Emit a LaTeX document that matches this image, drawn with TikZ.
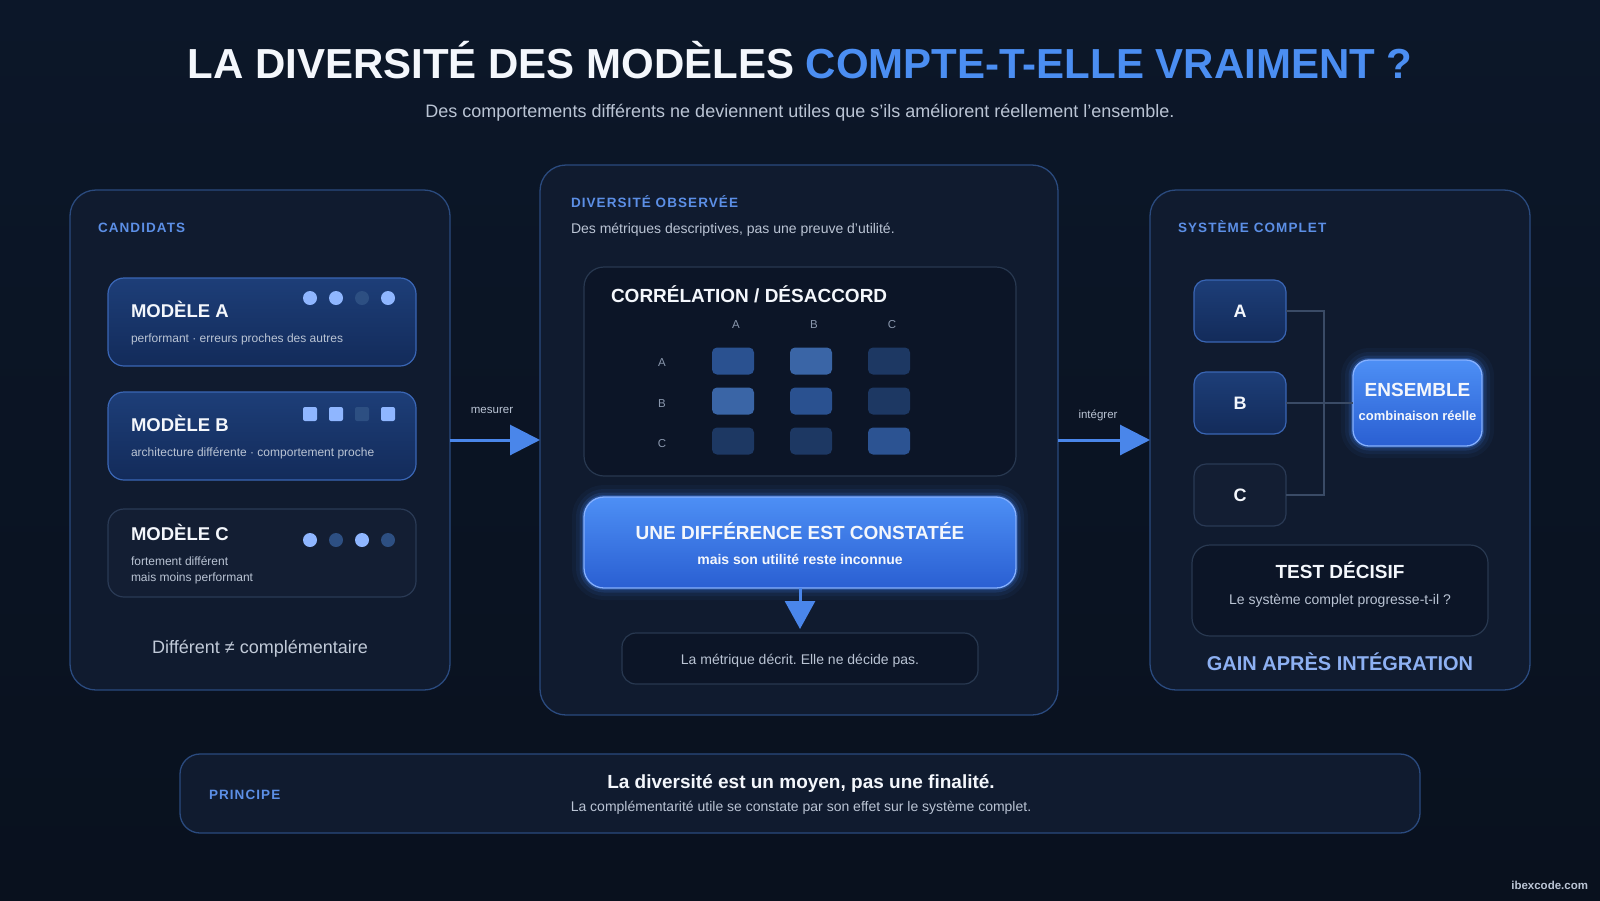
\documentclass[tikz,border=0pt]{standalone}
\usepackage{fontspec}
\setmainfont{Liberation Sans}
\usetikzlibrary{arrows.meta,calc}
\frenchspacing
\definecolor{bgtop}{HTML}{0C1729}
\definecolor{bgbot}{HTML}{09111E}
\definecolor{panelfill}{HTML}{101B2F}
\definecolor{panelborder}{HTML}{2A4A7E}
\definecolor{innerfill}{HTML}{0C1527}
\definecolor{innerborder}{HTML}{283850}
\definecolor{labelblue}{HTML}{5C8FE6}
\definecolor{titleblue}{HTML}{4B8EF2}
\definecolor{gainblue}{HTML}{8DB0F2}
\definecolor{txtwhite}{HTML}{F4F7FC}
\definecolor{txtgray}{HTML}{BAC4D4}
\definecolor{mutedgray}{HTML}{8A97AD}
\definecolor{modtop}{HTML}{1D3E78}
\definecolor{modbot}{HTML}{132B5A}
\definecolor{modborder}{HTML}{3A66B5}
\definecolor{darkbox}{HTML}{131E33}
\definecolor{darkborder}{HTML}{2A3A55}
\definecolor{dotlight}{HTML}{8FB6FF}
\definecolor{dotdark}{HTML}{2D4F82}
\definecolor{arrowblue}{HTML}{4A86EA}
\definecolor{bluetop}{HTML}{4D8FF5}
\definecolor{bluebot}{HTML}{2A5FD2}
\definecolor{blueborder}{HTML}{85B0FF}
\definecolor{glowc}{HTML}{3F7FF0}
\definecolor{connc}{HTML}{3A4B66}
\definecolor{cellmid}{HTML}{2A5190}
\definecolor{celllight}{HTML}{3A65A6}
\definecolor{celldark}{HTML}{1D3863}
\newcommand{\myfs}[1]{\fontsize{#1}{#1}\selectfont}
\newcommand{\spaced}{\addfontfeature{LetterSpace=8}}
\begin{document}
\begin{tikzpicture}[x=1pt,y=-1pt,
  every node/.style={inner sep=0pt, outer sep=0pt},
  panel/.style={draw=panelborder, line width=1.3pt, fill=panelfill, rounded corners=26pt},
  modelbox/.style={draw=modborder, line width=1.2pt, top color=modtop, bottom color=modbot, rounded corners=16pt, minimum width=308, minimum height=88},
  modeldark/.style={draw=darkborder, line width=1.2pt, fill=darkbox, rounded corners=16pt, minimum width=308, minimum height=88},
  innerbox/.style={draw=innerborder, line width=1.2pt, fill=innerfill, rounded corners=20pt},
  glow/.style={preaction={draw=glowc, line width=24pt, opacity=0.05},
               preaction={draw=glowc, line width=16pt, opacity=0.08},
               preaction={draw=glowc, line width=9pt, opacity=0.15},
               preaction={draw=glowc, line width=4pt, opacity=0.3}},
  bluebox/.style={glow, draw=blueborder, line width=1.3pt, top color=bluetop, bottom color=bluebot, rounded corners=20pt},
  cell/.style={rounded corners=5pt, minimum width=42, minimum height=27},
  smallbox/.style={draw=modborder, line width=1.2pt, top color=modtop, bottom color=modbot, rounded corners=12pt, minimum width=92, minimum height=62},
  smalldark/.style={draw=darkborder, line width=1.2pt, fill=darkbox, rounded corners=12pt, minimum width=92, minimum height=62},
  sec/.style={text=labelblue, font=\myfs{13.5}\bfseries\spaced, anchor=base west},
  mtitle/.style={text=txtwhite, font=\myfs{18.5}\bfseries, anchor=base west},
  msub/.style={text=txtgray, font=\myfs{12}, anchor=base west},
  body/.style={text=txtgray, font=\myfs{14}, anchor=base},
  flow/.style={draw=arrowblue, line width=3pt, -{Triangle[length=30pt, width=30pt]}},
  conn/.style={draw=connc, line width=1.5pt},
  mlabel/.style={text=mutedgray, font=\myfs{11.5}}
]
% background
\shade[top color=bgtop, bottom color=bgbot] (0,0) rectangle (1600,900);
\useasboundingbox (0,0) rectangle (1600,900);

% title
\node[anchor=base, font=\myfs{42}\bfseries] (title) at (800,78)
  {\textcolor{txtwhite}{LA DIVERSITÉ DES MODÈLES} \textcolor{titleblue}{COMPTE-T-ELLE VRAIMENT ?}};
\node[anchor=base, text=txtgray, font=\myfs{18}] (subtitle) at (800,117)
  {Des comportements différents ne deviennent utiles que s’ils améliorent réellement l’ensemble.};

% panels
\node[panel, minimum width=380, minimum height=500] (left) at (260,440) {};
\node[panel, minimum width=518, minimum height=550] (mid) at (799,440) {};
\node[panel, minimum width=380, minimum height=500] (right) at (1340,440) {};

% connectors between panels
\draw[flow] (left.east) -- (mid.west);
\draw[flow] (mid.east) -- (right.west);
\node[anchor=base, text=txtgray, font=\myfs{11.5}] (lmes) at (492,413) {mesurer};
\node[anchor=base, text=txtgray, font=\myfs{11.5}] (lint) at (1098,418) {intégrer};

% ---------- left panel ----------
\node[sec] (candl) at (98,232) {CANDIDATS};

\node[modelbox] (ma) at (262,322) {};
\node[mtitle] (mat) at (131,317) {MODÈLE A};
\node[msub] (mas) at (131,342) {performant · erreurs proches des autres};
\foreach \x/\c in {310/dotlight,336/dotlight,362/dotdark,388/dotlight}
  \fill[\c] (\x,298) circle (7);

\node[modelbox] (mb) at (262,436) {};
\node[mtitle] (mbt) at (131,431) {MODÈLE B};
\node[msub] (mbs) at (131,456) {architecture différente · comportement proche};
\foreach \x/\c in {310/dotlight,336/dotlight,362/dotdark,388/dotlight}
  \fill[\c, rounded corners=2pt] (\x-7,407) rectangle (\x+7,421);

\node[modeldark] (mc) at (262,553) {};
\node[mtitle] (mct) at (131,540) {MODÈLE C};
\node[msub] (mcs1) at (131,565) {fortement différent};
\node[msub] (mcs2) at (131,581) {mais moins performant};
\foreach \x/\c in {310/dotlight,336/dotdark,362/dotlight,388/dotdark}
  \fill[\c] (\x,540) circle (7);

\node[anchor=base, text=txtgray!90!white, font=\myfs{18}] (diffc) at (260,653) {Différent ≠ complémentaire};

% ---------- middle panel ----------
\node[sec] (divl) at (571,207) {DIVERSITÉ OBSERVÉE};
\node[body, anchor=base west] (divs) at (571,233) {Des métriques descriptives, pas une preuve d’utilité.};

\node[innerbox, minimum width=432, minimum height=209] (corr) at (800,371.5) {};
\node[anchor=base west, text=txtwhite, font=\myfs{19}\bfseries] (corrt) at (611,302) {CORRÉLATION / DÉSACCORD};

\node[mlabel] (ca) at (736,325) {A};
\node[mlabel] (cb) at (814,325) {B};
\node[mlabel] (cc) at (892,325) {C};
\node[mlabel] (ra) at (662,363) {A};
\node[mlabel] (rb) at (662,404) {B};
\node[mlabel] (rc) at (662,444) {C};

\node[cell, fill=cellmid]   (c11) at (733,361) {};
\node[cell, fill=celllight] (c12) at (811,361) {};
\node[cell, fill=celldark]  (c13) at (889,361) {};
\node[cell, fill=celllight] (c21) at (733,401) {};
\node[cell, fill=cellmid]   (c22) at (811,401) {};
\node[cell, fill=celldark]  (c23) at (889,401) {};
\node[cell, fill=celldark]  (c31) at (733,441) {};
\node[cell, fill=celldark]  (c32) at (811,441) {};
\node[cell, fill=cellmid!90!celllight]   (c33) at (889,441) {};

\node[bluebox, minimum width=432, minimum height=91] (diff) at (800,542.5) {};
\node[anchor=base, text=txtwhite, font=\myfs{19}\bfseries] (difft) at (800,539) {UNE DIFFÉRENCE EST CONSTATÉE};
\node[anchor=base, text=txtwhite, font=\myfs{14}\bfseries] (diffs) at (800,564.5) {mais son utilité reste inconnue};

\node[innerbox, rounded corners=14pt, minimum width=356, minimum height=51] (note) at (800,658.5) {};
\node[body] (notet) at (800,664.5) {La métrique décrit. Elle ne décide pas.};
\draw[draw=arrowblue, line width=3pt, -{Triangle[length=28pt, width=30pt]}, shorten >=4pt] (diff.south) -- (note.north);

% ---------- right panel ----------
\node[sec] (sysl) at (1178,232) {SYSTÈME COMPLET};

\node[smallbox] (sa) at (1240,311) {};
\node[smallbox] (sb) at (1240,403) {};
\node[smalldark] (sc) at (1240,495) {};
\node[text=txtwhite, font=\myfs{18}\bfseries] at (sa) {A};
\node[text=txtwhite, font=\myfs{18}\bfseries] at (sb) {B};
\node[text=txtwhite, font=\myfs{18}\bfseries] at (sc) {C};

\node[bluebox, rounded corners=16pt, minimum width=129, minimum height=86] (ens) at (1417.5,403) {};
\node[anchor=base, text=txtwhite, font=\myfs{19}\bfseries] (enst) at (1417.5,396) {ENSEMBLE};
\node[anchor=base, text=txtwhite, font=\myfs{13}\bfseries] (enss) at (1417.5,420.5) {combinaison réelle};

\coordinate (jn) at (1324,403);
\draw[conn] (sa.east) -| (jn) |- (sc.east);
\draw[conn] (sb.east) -- (ens.west);

\node[innerbox, rounded corners=18pt, minimum width=296, minimum height=91] (test) at (1340,590.5) {};
\node[anchor=base, text=txtwhite, font=\myfs{19}\bfseries] (testt) at (1340,578) {TEST DÉCISIF};
\node[body] (tests) at (1340,604.5) {Le système complet progresse-t-il ?};

\node[anchor=base, text=gainblue, font=\myfs{20}\bfseries] (gain) at (1340,670) {GAIN APRÈS INTÉGRATION};

% ---------- bottom principle ----------
\node[panel, rounded corners=20pt, minimum width=1240, minimum height=79] (princ) at (800,793.5) {};
\node[sec] (princl) at (209,799) {PRINCIPE};
\node[anchor=base, text=txtwhite, font=\myfs{19}\bfseries] (princt) at (801,788) {La diversité est un moyen, pas une finalité.};
\node[body] (princs) at (801,811.5) {La complémentarité utile se constate par son effet sur le système complet.};

% footer
\node[anchor=base east, text=txtgray, font=\myfs{11.5}\bfseries] (foot) at (1588,889) {ibexcode.com};
\end{tikzpicture}
\end{document}
